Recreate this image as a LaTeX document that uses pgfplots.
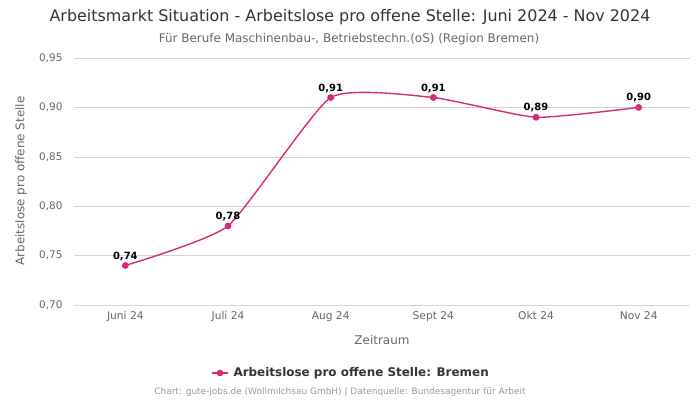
\documentclass[border=0pt]{standalone}
\usepackage{pgfplots}
\pgfplotsset{compat=1.18}
\usepackage{fontspec}
\setmainfont{DejaVu Sans}
\definecolor{linec}{RGB}{213,43,122}
\definecolor{titlec}{RGB}{51,51,51}
\definecolor{subc}{RGB}{102,102,102}
\definecolor{gridc}{RGB}{210,210,210}
\definecolor{axisc}{RGB}{204,214,235}
\definecolor{footc}{RGB}{153,153,153}
\begin{document}
\begin{tikzpicture}[x=1bp,y=1bp]
\path[use as bounding box] (0,0) rectangle (700,400);
\begin{axis}[
  at={(74bp,95bp)}, anchor=south west,
  scale only axis, width=616bp, height=247bp,
  xmin=-0.5, xmax=5.5, ymin=0.70, ymax=0.95,
  xtick={0,1,2,3,4,5},
  xticklabels={Juni 24,Juli 24,Aug 24,Sept 24,Okt 24,Nov 24},
  ytick={0.70,0.75,0.80,0.85,0.90,0.95},
  /pgf/number format/fixed,
  /pgf/number format/fixed zerofill,
  /pgf/number format/precision=2,
  /pgf/number format/use comma,
  /pgf/number format/assume math mode=true,
  yticklabel style={font=\fontsize{10.5}{13}\selectfont, text=subc, xshift=-8bp},
  xticklabel style={font=\fontsize{10.7}{13}\selectfont, text=subc, yshift=-3bp},
  ymajorgrids, grid style={gridc, line width=0.6pt},
  axis x line*=bottom, axis y line*=left,
  x axis line style={draw=axisc, line width=0.8pt, -},
  y axis line style={draw=none, -},
  major tick length=0pt,
  tick style={draw=none},
  clip=false,
]
\addplot[linec, line width=1.4pt, smooth, tension=0.3, mark=*, mark size=2.7pt, mark options={fill=linec, draw=linec},
  nodes near coords, point meta=explicit symbolic,
  every node near coord/.style={font=\bfseries\fontsize{10}{12}\selectfont, text=black, yshift=1pt}]
coordinates {(0,0.74)[0,74] (1,0.78)[0,78] (2,0.91)[0,91] (3,0.91)[0,91] (4,0.89)[0,89] (5,0.90)[0,90]};
\end{axis}
\node[font=\fontsize{16}{19}\selectfont, text=titlec] at (350,383) {Arbeitsmarkt Situation - Arbeitslose pro offene Stelle: Juni 2024 - Nov 2024};
\node[font=\fontsize{12}{14}\selectfont, text=subc] at (349,361) {Für Berufe Maschinenbau-, Betriebstechn.(oS) (Region Bremen)};
\node[font=\fontsize{12}{14}\selectfont, text=subc, rotate=90] at (21,219) {Arbeitslose pro offene Stelle};
\node[font=\fontsize{12}{14}\selectfont, text=subc] at (382,60) {Zeitraum};
\draw[linec, line width=1.6pt] (212,27) -- (228,27);
\fill[linec] (220,27) circle (3.3);
\node[font=\bfseries\fontsize{12}{14}\selectfont, text=titlec, anchor=west] at (230,27) {Arbeitslose pro offene Stelle: Bremen};
\node[font=\fontsize{9}{10}\selectfont, text=footc] at (340,8) {Chart: gute-jobs.de (Wollmilchsau GmbH) | Datenquelle: Bundesagentur für Arbeit};
\end{tikzpicture}
\end{document}
